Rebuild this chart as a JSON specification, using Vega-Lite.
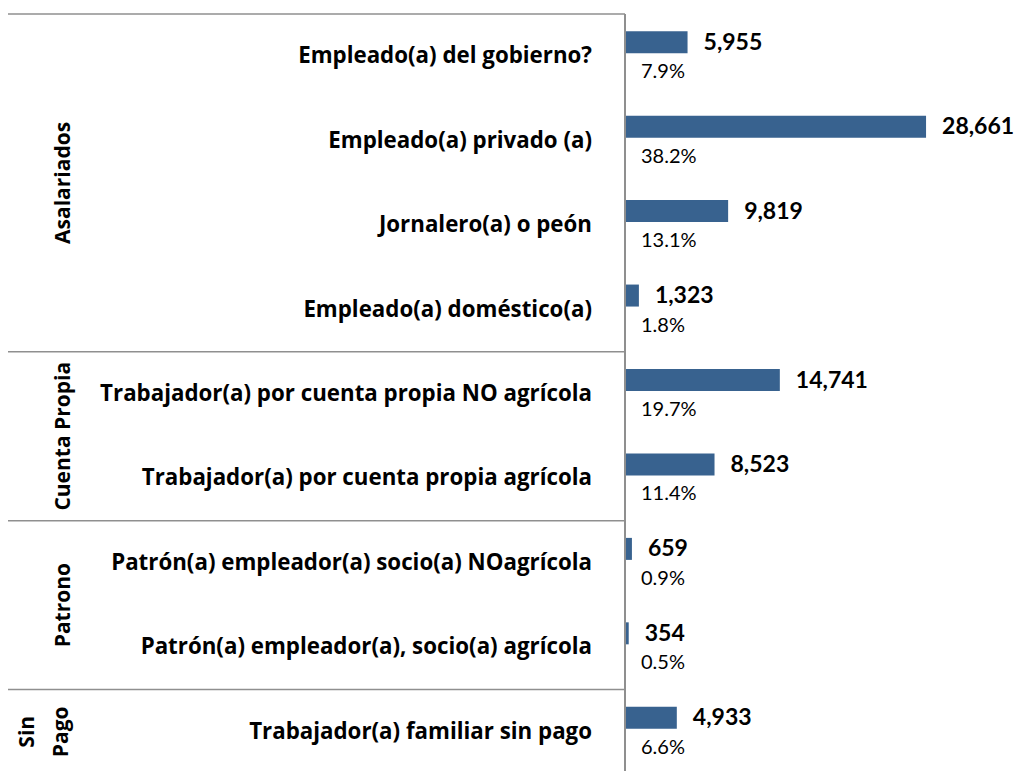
{
  "$schema": "https://vega.github.io/schema/vega-lite/v6.json",
  "padding": {"left": 7, "top": 13, "right": 0, "bottom": 0},
  "background": "white",
  "bounds": "flush",
  "spacing": 0,
  "config": {"view": {"stroke": null}, "concat": {"spacing": 0}},
  "data": {"values": [
    {"grupo": "Asalariados", "cat": "Empleado(a) del gobierno?", "row": 0, "n": 5955, "pct": 0.079},
    {"grupo": "Asalariados", "cat": "Empleado(a) privado (a)", "row": 1, "n": 28661, "pct": 0.382},
    {"grupo": "Asalariados", "cat": "Jornalero(a) o peón", "row": 2, "n": 9819, "pct": 0.131},
    {"grupo": "Asalariados", "cat": "Empleado(a) doméstico(a)", "row": 3, "n": 1323, "pct": 0.018},
    {"grupo": "Cuenta Propia", "cat": "Trabajador(a) por cuenta propia NO agrícola", "row": 4, "n": 14741, "pct": 0.197},
    {"grupo": "Cuenta Propia", "cat": "Trabajador(a) por cuenta propia agrícola", "row": 5, "n": 8523, "pct": 0.114},
    {"grupo": "Patrono", "cat": "Patrón(a) empleador(a) socio(a) NOagrícola", "row": 6, "n": 659, "pct": 0.009},
    {"grupo": "Patrono", "cat": "Patrón(a) empleador(a), socio(a) agrícola", "row": 7, "n": 354, "pct": 0.005},
    {"grupo": "Sin\nPago", "cat": "Trabajador(a) familiar sin pago", "row": 8, "n": 4933, "pct": 0.066}
  ]},
  "hconcat": [
    {
      "width": 617,
      "height": 760,
      "layer": [
        {
          "mark": {"type": "rule", "color": "#8f8f8f", "strokeWidth": 1.5, "yOffset": -42.2},
          "encoding": {
            "y": {"aggregate": "min", "field": "row", "type": "quantitative", "scale": {"domain": [-0.5, 8.5], "reverse": true, "nice": false, "zero": false, "padding": 0}, "axis": null},
            "x": {"datum": 0, "type": "quantitative", "scale": {"domain": [0, 1], "nice": false, "padding": 0}, "axis": null},
            "x2": {"datum": 1},
            "detail": {"field": "grupo"}
          }
        },
        {
          "transform": [{"filter": "indexof(datum.grupo, '\\n') < 0"}],
          "mark": {"type": "text", "angle": 270, "align": "center", "baseline": "alphabetic", "font": "Open Sans", "fontWeight": "bold", "fontSize": 21, "color": "black"},
          "encoding": {
            "y": {"aggregate": "mean", "field": "row", "type": "quantitative"},
            "x": {"datum": 0.1, "type": "quantitative"},
            "text": {"field": "grupo"}
          }
        },
        {
          "transform": [{"filter": "indexof(datum.grupo, '\\n') >= 0"}],
          "mark": {"type": "text", "angle": 270, "align": "center", "baseline": "alphabetic", "font": "Open Sans", "fontWeight": "bold", "fontSize": 21, "lineBreak": "\n", "lineHeight": 34, "dy": -36, "color": "black"},
          "encoding": {
            "y": {"aggregate": "mean", "field": "row", "type": "quantitative"},
            "x": {"datum": 0.1, "type": "quantitative"},
            "text": {"field": "grupo"}
          }
        },
        {
          "mark": {"type": "text", "align": "right", "baseline": "middle", "font": "Open Sans", "fontWeight": "bold", "fontSize": 22.3, "dx": -33, "color": "black"},
          "encoding": {
            "y": {"field": "row", "type": "quantitative"},
            "x": {"datum": 1, "type": "quantitative"},
            "text": {"field": "cat"}
          }
        }
      ]
    },
    {
      "width": 392,
      "height": 760,
      "encoding": {
        "y": {"field": "row", "type": "quantitative", "scale": {"domain": [-0.5, 8.5], "reverse": true, "nice": false, "zero": false, "padding": 0}, "axis": null},
        "x": {"field": "n", "type": "quantitative", "scale": {"domain": [0, 37320], "nice": false, "padding": 0}, "axis": null}
      },
      "layer": [
        {
          "mark": {"type": "bar", "orient": "horizontal", "height": 22, "yOffset": -14, "color": "#38628f"}
        },
        {
          "mark": {"type": "rule", "color": "#8f8f8f", "strokeWidth": 1.5},
          "encoding": {
            "x": {"datum": 0, "type": "quantitative"},
            "y": {"datum": -0.5, "type": "quantitative"},
            "y2": {"datum": 8.5}
          }
        },
        {
          "mark": {"type": "text", "align": "left", "baseline": "middle", "font": "Lato", "fontWeight": "bold", "fontSize": 23, "dx": 16, "dy": -13.5, "color": "black"},
          "encoding": {"text": {"field": "n", "type": "quantitative", "format": ","}}
        },
        {
          "mark": {"type": "text", "align": "left", "baseline": "middle", "font": "Lato", "fontSize": 20, "dx": 16, "dy": 16, "color": "black"},
          "encoding": {
            "x": {"datum": 0, "type": "quantitative"},
            "text": {"field": "pct", "type": "quantitative", "format": ".1%"}
          }
        }
      ]
    }
  ]
}
